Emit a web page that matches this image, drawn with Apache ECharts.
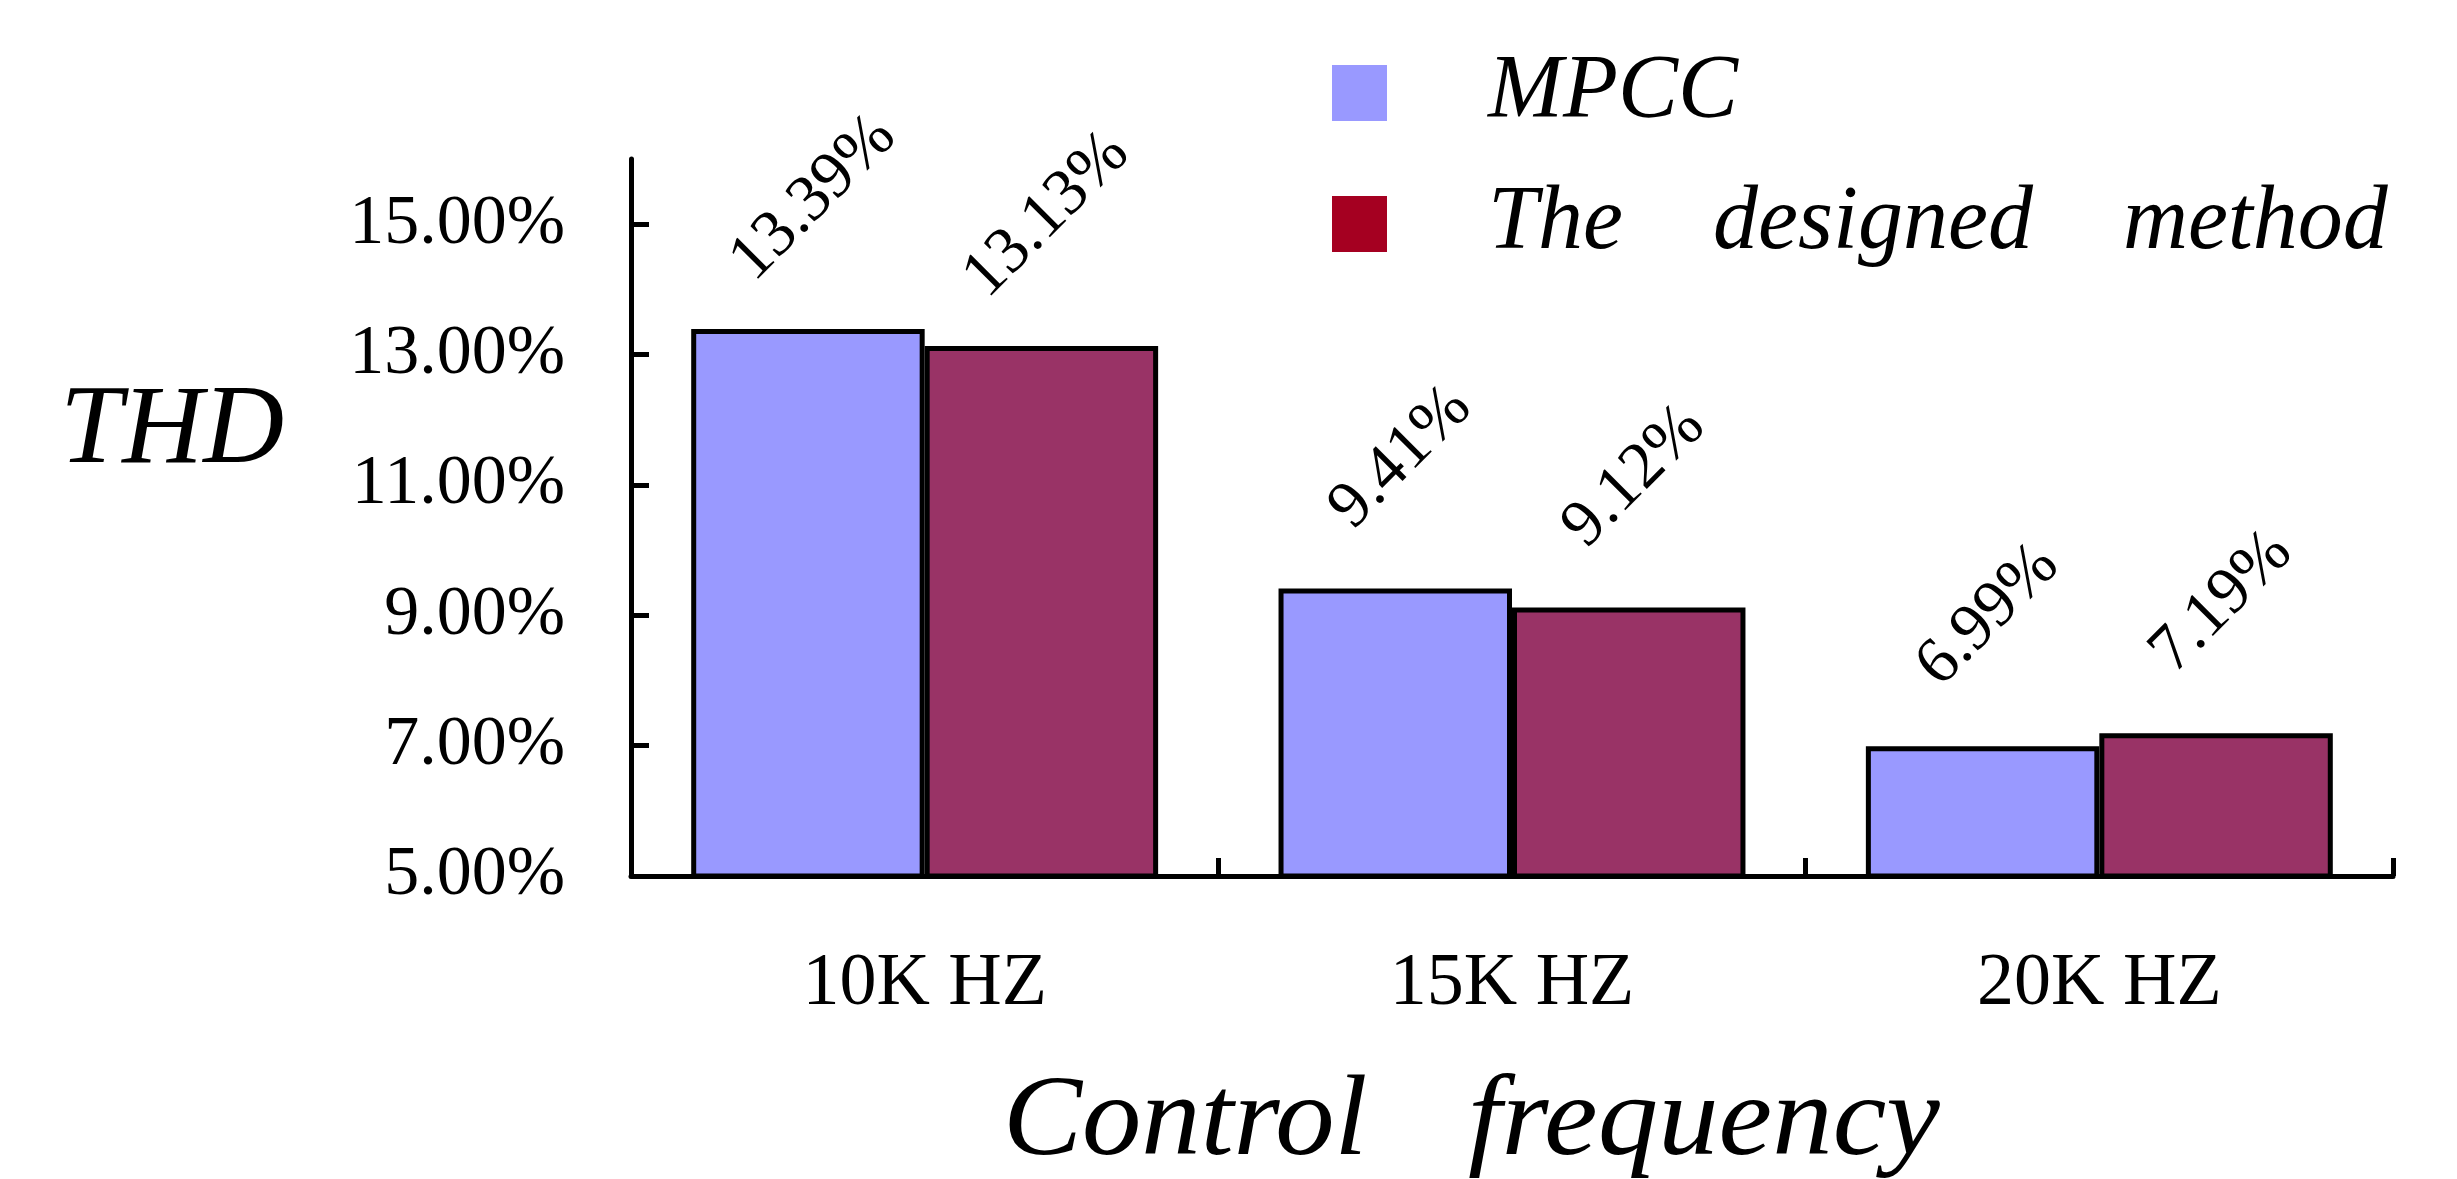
<!DOCTYPE html>
<html>
<head>
<meta charset="utf-8">
<title>THD vs control frequency</title>
<script src="https://cdn.jsdelivr.net/npm/echarts@6/dist/echarts.min.js"></script>
<style>
  html, body { margin: 0; padding: 0; background: #fff; }
  #chart { width: 2457px; height: 1179px; }
</style>
</head>
<body>
<div id="chart"></div>
<script>
// Control frequencies on the x axis
const categories = ['10K HZ', '15K HZ', '20K HZ'];
// THD (%) for each method
const mpccValues = [13.39, 9.41, 6.99];
const designedValues = [13.13, 9.12, 7.19];
// Y axis tick values (%)
const yTicks = [5, 7, 9, 11, 13, 15];
const seriesNames = ['MPCC', 'The designed method'];

const SERIF = '"Liberation Serif", "Times New Roman", serif';
const pct = v => v.toFixed(2) + '%';

const chart = echarts.init(document.getElementById('chart'), null, { renderer: 'canvas' });

const barLabel = {
  show: true,
  position: 'top',
  distance: 125,
  rotate: 45,
  align: 'center',
  verticalAlign: 'middle',
  offset: [8, 0],
  fontFamily: SERIF,
  fontSize: 66,
  color: '#000',
  formatter: p => pct(p.value)
};

// italic axis-title text element
const titleText = (text, x, y, size, align, scaleX) => ({
  type: 'text',
  x: x,
  y: y,
  scaleX: scaleX,
  style: {
    text: text,
    font: 'italic ' + size + 'px ' + SERIF,
    fill: '#000',
    align: align,
    verticalAlign: 'middle'
  }
});

chart.setOption({
  animation: false,
  backgroundColor: '#fff',
  grid: {
    left: 631, right: 64, top: 159, bottom: 303,
    containLabel: false,
    outerBoundsMode: 'none'
  },
  legend: {
    orient: 'vertical',
    left: 1327,
    top: 43,
    itemWidth: 55,
    itemHeight: 56,
    itemGap: 41,
    icon: 'rect',
    selectedMode: false,
    itemStyle: { borderWidth: 0 },
    data: [
      { name: seriesNames[0], itemStyle: { color: '#9999FF', borderWidth: 0 } },
      { name: seriesNames[1], itemStyle: { color: '#A50021', borderWidth: 0 } }
    ],
    formatter: name => name.split(' ').join('    '),
    textStyle: {
      fontFamily: SERIF,
      fontStyle: 'italic',
      fontSize: 90,
      color: '#000',
      padding: [0, 0, 0, 96]
    }
  },
  xAxis: {
    type: 'category',
    data: categories,
    boundaryGap: true,
    axisLine: { show: true, lineStyle: { color: '#000', width: 5 } },
    axisTick: {
      show: true, inside: true, length: 18, alignWithLabel: false,
      lineStyle: { color: '#000', width: 5 }
    },
    axisLabel: {
      margin: 72,
      fontFamily: SERIF,
      fontSize: 74,
      color: '#000'
    },
    splitLine: { show: false }
  },
  yAxis: {
    type: 'value',
    min: 5,
    max: 16,
    axisLine: { show: true, lineStyle: { color: '#000', width: 5 } },
    axisTick: {
      show: true, inside: true, length: 18,
      customValues: yTicks,
      lineStyle: { color: '#000', width: 5 }
    },
    axisLabel: {
      margin: 66,
      customValues: yTicks,
      fontFamily: SERIF,
      fontSize: 70,
      color: '#000',
      formatter: v => pct(v)
    },
    splitLine: { show: false }
  },
  series: [
    {
      name: seriesNames[0],
      type: 'bar',
      data: mpccValues,
      barGap: '0%',
      barCategoryGap: '20.5%',
      itemStyle: { color: '#9999FF', borderColor: '#000', borderWidth: 5 },
      label: barLabel
    },
    {
      name: seriesNames[1],
      type: 'bar',
      data: designedValues,
      barGap: '0%',
      barCategoryGap: '20.5%',
      itemStyle: { color: '#993366', borderColor: '#000', borderWidth: 5 },
      label: barLabel
    }
  ],
  graphic: [
    titleText('THD', 172, 433, 112, 'center', 1),
    titleText('Control', 1003, 1124, 114, 'left', 1.04),
    titleText('frequency', 1468, 1124, 114, 'left', 1.06)
  ]
});
</script>
</body>
</html>
